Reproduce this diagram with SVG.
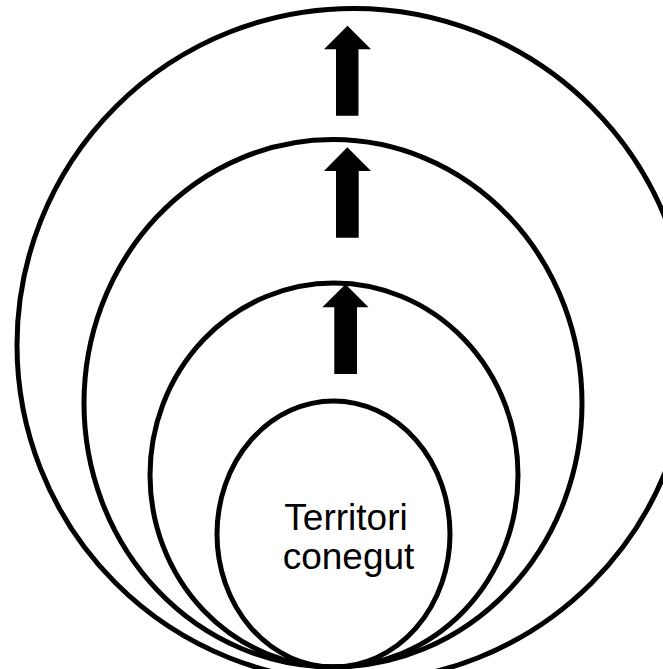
<svg xmlns="http://www.w3.org/2000/svg" width="663" height="669" viewBox="0 0 663 669">
<style>
.ring{fill:none;stroke:#000;stroke-width:5}
.arr{fill:#000;stroke:none}
.lbl{font-family:"Liberation Sans",Arial,sans-serif;font-size:37px;fill:#000;text-anchor:middle}
</style>
<rect width="663" height="669" fill="#fff"/>
<g id="ring-outer"><circle class="ring" cx="353.6" cy="345" r="336.6"/></g>
<g id="ring-2"><ellipse class="ring" cx="333" cy="403.3" rx="249" ry="263.7"/></g>
<g id="ring-3"><ellipse class="ring" cx="334" cy="475" rx="184" ry="192"/></g>
<g id="ring-inner"><ellipse class="ring" cx="333.5" cy="534" rx="116.5" ry="133"/>
<text class="lbl" x="346" y="530">Territori</text>
<text class="lbl" x="348.5" y="569">conegut</text></g>
<g id="connectors">
<polygon class="arr" points="347.5,25.7 371,49.3 358.5,49.3 358.5,115.7 336,115.7 336,49.3 324,49.3"/>
<polygon class="arr" points="347.3,147.3 371,171 358.7,171 358.7,237.7 336,237.7 336,171 324,171"/>
<polygon class="arr" points="345.5,284.3 368.5,307.3 357,307.3 357,374 334.3,374 334.3,307.3 322.3,307.3"/>
</g>
</svg>
